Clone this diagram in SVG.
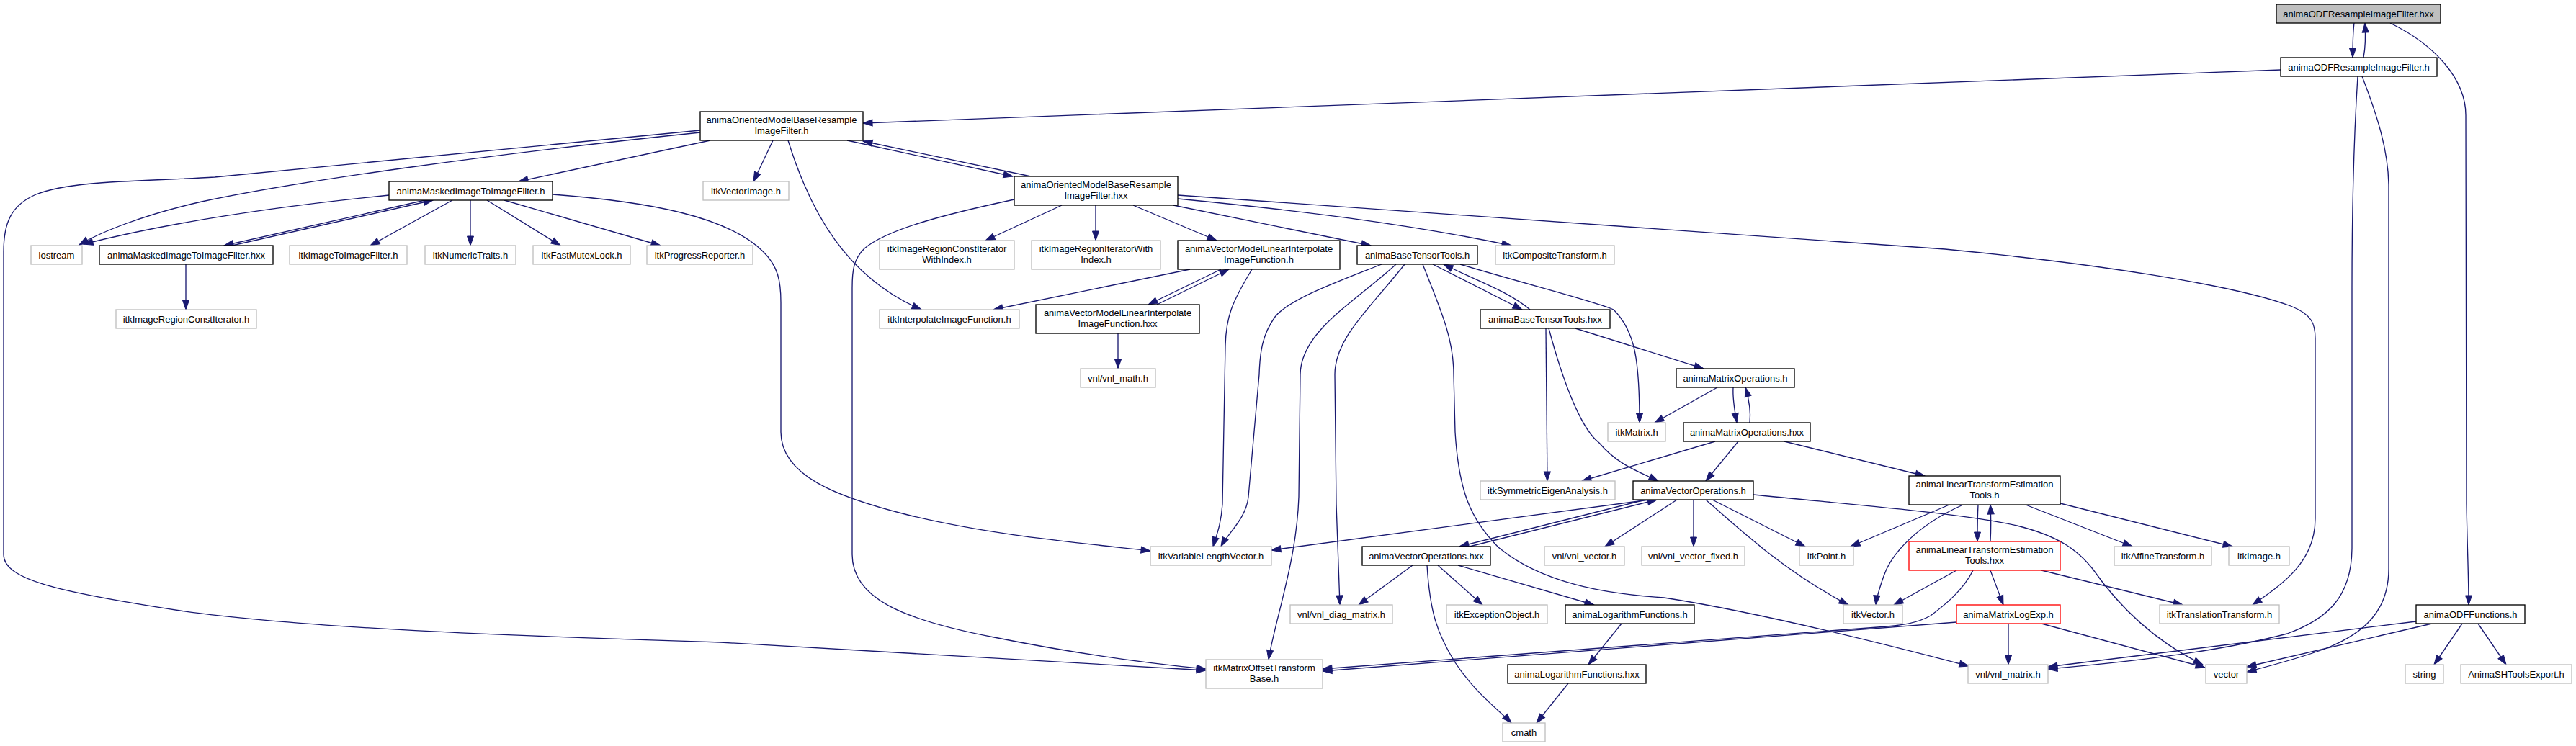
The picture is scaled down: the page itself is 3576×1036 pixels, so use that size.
<svg xmlns="http://www.w3.org/2000/svg" width="3576" height="1036" viewBox="0 0 3576 1036">
<style>
rect{fill:#fff;stroke:#000;stroke-width:1.33}
.x rect{stroke:#bfbfbf}
.r rect{stroke:#f00}
.top rect{fill:#bfbfbf}
text{font-family:"Liberation Sans",Arial,Helvetica,sans-serif;font-size:13px;text-anchor:middle;fill:#000}
#edges path{fill:none;stroke:#191970;stroke-width:1.33;marker-end:url(#a)}
</style>
<defs>
<marker id="a" markerUnits="userSpaceOnUse" markerWidth="14" markerHeight="10" refX="13" refY="5" orient="auto" overflow="visible">
<path d="M0,0.5 L13,5 L0,9.5 z" fill="#191970" stroke="#191970" stroke-width="1"/>
</marker>
</defs>
<rect x="0" y="0" width="3576" height="1036" style="fill:#fff;stroke:none"/>
<g id="edges">
<path d="M3268,32 C3266,48 3266,62 3266,80"/>
<path d="M3281,80 C3284,64 3284,48 3283,32"/>
<path d="M3318,32 C3380,62 3423,110 3423,160 L3424,700 C3425,760 3427,800 3427,840"/>
<path d="M3166,97 L1198,171"/>
<path d="M3273,106 C3267,200 3265,300 3265,400 L3265,760 C3265,830 3230,860 3175,880 C3080,905 2950,920 2843,929"/>
<path d="M3279,106 C3300,160 3316,210 3316,260 L3316,790 C3316,850 3280,880 3230,900 C3190,915 3150,925 3119,933"/>
<path d="M986,195 L720,252"/>
<path d="M972,184 C700,212 420,250 280,280 C200,298 140,322 110,340"/>
<path d="M972,181 L298,246 C200,252 100,250 50,270 C15,285 5,310 5,350 L5,770 C5,805 80,822 250,848 C420,872 700,883 1000,892 L1674,931"/>
<path d="M1073,195 L1046,252"/>
<path d="M1176,195 L1406,245"/>
<path d="M1431,245 L1198,196"/>
<path d="M1094,195 C1125,295 1175,385 1279,430"/>
<path d="M540,271 C400,285 250,305 116,339"/>
<path d="M590,278 L311,341"/>
<path d="M322,341 L601,278"/>
<path d="M628,278 L514,341"/>
<path d="M653,278 L653,341"/>
<path d="M676,278 L778,341"/>
<path d="M700,278 L917,341"/>
<path d="M767,270 C900,280 1010,300 1060,350 C1080,370 1084,390 1084,420 L1084,600 C1084,660 1160,690 1260,715 C1370,742 1480,752 1597,765"/>
<path d="M258,367 L258,430"/>
<path d="M1474,285 L1368,334"/>
<path d="M1521,285 L1521,334"/>
<path d="M1573,285 L1689,334"/>
<path d="M1629,285 L1903,341"/>
<path d="M1635,276 C1800,292 1950,310 2098,341"/>
<path d="M1635,271 L2700,346 C2900,365 3100,395 3180,425 C3210,437 3214,450 3214,470 L3214,720 C3214,780 3170,810 3127,840"/>
<path d="M1408,277 C1300,300 1230,320 1200,345 C1185,360 1183,375 1183,400 L1183,770 C1183,830 1250,860 1380,885 C1480,905 1580,920 1674,929"/>
<path d="M1652,374 L1379,430"/>
<path d="M1695,374 L1594,423"/>
<path d="M1606,423 L1706,374"/>
<path d="M1738,374 C1710,420 1702,440 1701,480 L1697,700 C1695,730 1688,745 1684,759"/>
<path d="M1552,463 L1552,512"/>
<path d="M1989,367 L2113,430"/>
<path d="M2124,430 C2095,405 2050,390 2004,367"/>
<path d="M2027,367 C2120,395 2220,420 2240,430 C2270,460 2276,500 2276,587"/>
<path d="M1918,367 C1860,390 1790,415 1770,440 C1752,465 1749,490 1748,520 L1733,690 C1730,720 1705,740 1695,759"/>
<path d="M1938,367 C1880,420 1806,460 1805,520 L1803,690 C1800,780 1770,860 1761,916"/>
<path d="M1950,367 C1900,430 1853,470 1853,520 L1855,700 L1860,840"/>
<path d="M1975,367 C2000,430 2018,470 2018,520 L2020,600 C2025,680 2040,720 2080,760 C2140,810 2230,825 2310,830 C2440,850 2600,890 2733,925"/>
<path d="M2187,456 L2365,512"/>
<path d="M2146,456 L2148,668"/>
<path d="M2150,456 C2175,550 2200,600 2220,615 C2245,645 2275,655 2302,668"/>
<path d="M2384,538 L2297,587"/>
<path d="M2406,538 C2405,555 2408,570 2411,587"/>
<path d="M2429,587 C2431,570 2428,555 2423,538"/>
<path d="M2381,613 L2196,668"/>
<path d="M2413,613 L2368,668"/>
<path d="M2477,613 L2672,661"/>
<path d="M2290,694 L1765,764"/>
<path d="M2284,694 L2026,759"/>
<path d="M2040,759 L2300,694"/>
<path d="M2328,694 L2228,759"/>
<path d="M2351,694 L2351,759"/>
<path d="M2377,694 L2506,759"/>
<path d="M2368,694 C2420,740 2480,795 2566,840"/>
<path d="M2434,687 C2560,700 2720,712 2800,730 C2860,745 2885,765 2905,790 C2940,840 2990,890 3058,923"/>
<path d="M1961,785 L1886,840"/>
<path d="M1996,785 L2058,840"/>
<path d="M2024,785 L2213,840"/>
<path d="M1981,785 C1985,850 1995,880 2020,920 C2050,965 2080,985 2098,1004"/>
<path d="M2251,866 L2205,923"/>
<path d="M2177,949 L2133,1004"/>
<path d="M2746,701 C2745,720 2745,735 2745,752"/>
<path d="M2763,752 C2764,735 2764,720 2763,701"/>
<path d="M2706,701 L2569,759"/>
<path d="M2725,701 C2660,730 2625,770 2615,800 C2608,820 2605,830 2604,840"/>
<path d="M2812,701 L2960,759"/>
<path d="M2860,699 L3099,759"/>
<path d="M2716,792 L2629,840"/>
<path d="M2739,792 C2725,820 2700,840 2680,855 C2660,866 2640,868 2620,870 L1836,929"/>
<path d="M2716,864 L1836,932"/>
<path d="M2763,792 L2781,840"/>
<path d="M2834,792 L3030,840"/>
<path d="M2788,866 L2788,923"/>
<path d="M2834,866 L3061,927"/>
<path d="M3354,863 L2843,926"/>
<path d="M3376,866 L3119,926"/>
<path d="M3418,866 L3379,923"/>
<path d="M3440,866 L3479,923"/>
</g>
<g id="n1" class="top"><rect x="3160" y="6" width="228" height="26"/><text x="3274" y="23.5">animaODFResampleImageFilter.hxx</text></g>
<g id="n2"><rect x="3166" y="80" width="217" height="26"/><text x="3274.5" y="97.5">animaODFResampleImageFilter.h</text></g>
<g id="n3"><rect x="972" y="155" width="226" height="40"/><text x="1085" y="171">animaOrientedModelBaseResample</text><text x="1085" y="186">ImageFilter.h</text></g>
<g id="n4"><rect x="540" y="252" width="227" height="26"/><text x="653.5" y="269.5">animaMaskedImageToImageFilter.h</text></g>
<g id="n5" class="x"><rect x="976" y="252" width="119" height="26"/><text x="1035.5" y="269.5">itkVectorImage.h</text></g>
<g id="n6"><rect x="1408" y="245" width="227" height="40"/><text x="1521.5" y="261">animaOrientedModelBaseResample</text><text x="1521.5" y="276">ImageFilter.hxx</text></g>
<g id="n7" class="x"><rect x="43" y="341" width="71" height="26"/><text x="78.5" y="358.5">iostream</text></g>
<g id="n8"><rect x="138" y="341" width="241" height="26"/><text x="258.5" y="358.5">animaMaskedImageToImageFilter.hxx</text></g>
<g id="n9" class="x"><rect x="402" y="341" width="163" height="26"/><text x="483.5" y="358.5">itkImageToImageFilter.h</text></g>
<g id="n10" class="x"><rect x="590" y="341" width="126" height="26"/><text x="653" y="358.5">itkNumericTraits.h</text></g>
<g id="n11" class="x"><rect x="740" y="341" width="135" height="26"/><text x="807.5" y="358.5">itkFastMutexLock.h</text></g>
<g id="n12" class="x"><rect x="898" y="341" width="147" height="26"/><text x="971.5" y="358.5">itkProgressReporter.h</text></g>
<g id="n13" class="x"><rect x="1221" y="334" width="187" height="40"/><text x="1314.5" y="350">itkImageRegionConstIterator</text><text x="1314.5" y="365">WithIndex.h</text></g>
<g id="n14" class="x"><rect x="1432" y="334" width="179" height="40"/><text x="1521.5" y="350">itkImageRegionIteratorWith</text><text x="1521.5" y="365">Index.h</text></g>
<g id="n15"><rect x="1635" y="334" width="225" height="40"/><text x="1747.5" y="350">animaVectorModelLinearInterpolate</text><text x="1747.5" y="365">ImageFunction.h</text></g>
<g id="n16"><rect x="1884" y="341" width="167" height="26"/><text x="1967.5" y="358.5">animaBaseTensorTools.h</text></g>
<g id="n17" class="x"><rect x="2076" y="341" width="165" height="26"/><text x="2158.5" y="358.5">itkCompositeTransform.h</text></g>
<g id="n18" class="x"><rect x="161" y="430" width="195" height="26"/><text x="258.5" y="447.5">itkImageRegionConstIterator.h</text></g>
<g id="n19" class="x"><rect x="1221" y="430" width="194" height="26"/><text x="1318" y="447.5">itkInterpolateImageFunction.h</text></g>
<g id="n20"><rect x="1438" y="423" width="227" height="40"/><text x="1551.5" y="439">animaVectorModelLinearInterpolate</text><text x="1551.5" y="454">ImageFunction.hxx</text></g>
<g id="n21"><rect x="2055" y="430" width="180" height="26"/><text x="2145" y="447.5">animaBaseTensorTools.hxx</text></g>
<g id="n22" class="x"><rect x="1500" y="512" width="104" height="26"/><text x="1552" y="529.5">vnl/vnl_math.h</text></g>
<g id="n23"><rect x="2327" y="512" width="164" height="26"/><text x="2409" y="529.5">animaMatrixOperations.h</text></g>
<g id="n24" class="x"><rect x="2232" y="587" width="80" height="26"/><text x="2272" y="604.5">itkMatrix.h</text></g>
<g id="n25"><rect x="2337" y="587" width="176" height="26"/><text x="2425" y="604.5">animaMatrixOperations.hxx</text></g>
<g id="n26"><rect x="2650" y="661" width="210" height="40"/><text x="2755" y="677">animaLinearTransformEstimation</text><text x="2755" y="692">Tools.h</text></g>
<g id="n27" class="x"><rect x="2055" y="668" width="187" height="26"/><text x="2148.5" y="685.5">itkSymmetricEigenAnalysis.h</text></g>
<g id="n28"><rect x="2267" y="668" width="167" height="26"/><text x="2350.5" y="685.5">animaVectorOperations.h</text></g>
<g id="n29" class="x"><rect x="1597" y="759" width="168" height="26"/><text x="1681" y="776.5">itkVariableLengthVector.h</text></g>
<g id="n30"><rect x="1891" y="759" width="178" height="26"/><text x="1980" y="776.5">animaVectorOperations.hxx</text></g>
<g id="n31" class="x"><rect x="2144" y="759" width="111" height="26"/><text x="2199.5" y="776.5">vnl/vnl_vector.h</text></g>
<g id="n32" class="x"><rect x="2279" y="759" width="143" height="26"/><text x="2350.5" y="776.5">vnl/vnl_vector_fixed.h</text></g>
<g id="n33" class="x"><rect x="2498" y="759" width="75" height="26"/><text x="2535.5" y="776.5">itkPoint.h</text></g>
<g id="n34" class="r"><rect x="2650" y="752" width="210" height="40"/><text x="2755" y="768">animaLinearTransformEstimation</text><text x="2755" y="783">Tools.hxx</text></g>
<g id="n35" class="x"><rect x="2935" y="759" width="135" height="26"/><text x="3002.5" y="776.5">itkAffineTransform.h</text></g>
<g id="n36" class="x"><rect x="3094" y="759" width="84" height="26"/><text x="3136" y="776.5">itkImage.h</text></g>
<g id="n37" class="x"><rect x="1791" y="840" width="142" height="26"/><text x="1862" y="857.5">vnl/vnl_diag_matrix.h</text></g>
<g id="n38" class="x"><rect x="2008" y="840" width="140" height="26"/><text x="2078" y="857.5">itkExceptionObject.h</text></g>
<g id="n39"><rect x="2173" y="840" width="179" height="26"/><text x="2262.5" y="857.5">animaLogarithmFunctions.h</text></g>
<g id="n40" class="x"><rect x="2559" y="840" width="82" height="26"/><text x="2600" y="857.5">itkVector.h</text></g>
<g id="n41" class="r"><rect x="2716" y="840" width="144" height="26"/><text x="2788" y="857.5">animaMatrixLogExp.h</text></g>
<g id="n42" class="x"><rect x="2998" y="840" width="166" height="26"/><text x="3081" y="857.5">itkTranslationTransform.h</text></g>
<g id="n43"><rect x="3354" y="840" width="151" height="26"/><text x="3429.5" y="857.5">animaODFFunctions.h</text></g>
<g id="n44" class="x"><rect x="1674" y="916" width="162" height="40"/><text x="1755" y="932">itkMatrixOffsetTransform</text><text x="1755" y="947">Base.h</text></g>
<g id="n45"><rect x="2093" y="923" width="192" height="26"/><text x="2189" y="940.5">animaLogarithmFunctions.hxx</text></g>
<g id="n46" class="x"><rect x="2732" y="923" width="111" height="26"/><text x="2787.5" y="940.5">vnl/vnl_matrix.h</text></g>
<g id="n47" class="x"><rect x="3062" y="923" width="57" height="26"/><text x="3090.5" y="940.5">vector</text></g>
<g id="n48" class="x"><rect x="3339" y="923" width="53" height="26"/><text x="3365.5" y="940.5">string</text></g>
<g id="n49" class="x"><rect x="3416" y="923" width="154" height="26"/><text x="3493" y="940.5">AnimaSHToolsExport.h</text></g>
<g id="n50" class="x"><rect x="2086" y="1004" width="59" height="26"/><text x="2115.5" y="1021.5">cmath</text></g>
</svg>
